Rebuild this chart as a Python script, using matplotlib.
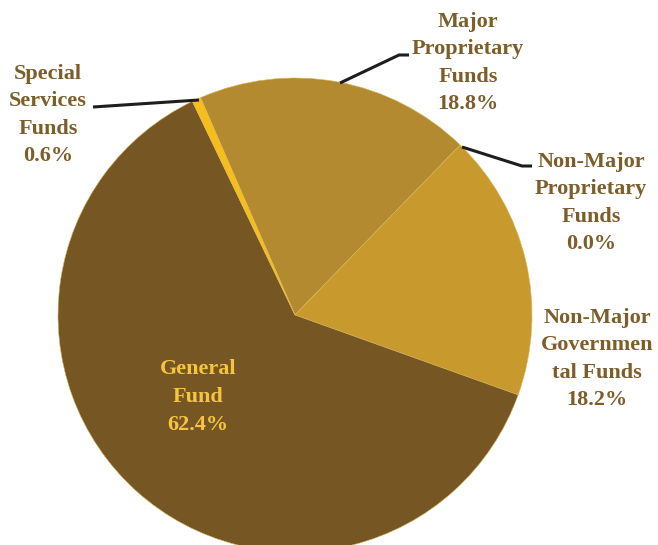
import matplotlib
matplotlib.use("Agg")
import matplotlib.pyplot as plt

# Fund shares, clockwise from the top-left edge of Major Proprietary
funds = ["Major\nProprietary\nFunds", "Non-Major\nProprietary\nFunds",
         "Non-Major\nGovernmen\ntal Funds", "General\nFund",
         "Special\nServices\nFunds"]
shares = [18.8, 0.0, 18.2, 62.4, 0.6]
colors = ["#B38A2F", "#C8992C", "#C8992C", "#765724", "#F7BE1A"]

TEXT = "#7B5E2A"
W, H = 658, 545


def flip(y):
    return H - y


fig = plt.figure(figsize=(W / 100, H / 100), dpi=100)
ax = fig.add_axes([0, 0, 1, 1])
ax.axis("off")

ax.pie(shares, colors=colors, startangle=113.5, counterclock=False,
       center=(295, flip(315)), radius=237,
       wedgeprops=dict(edgecolor="#D8B55A", linewidth=0.4))

font = dict(family=["Liberation Serif", "DejaVu Serif"], fontsize=16,
            fontweight="bold", ha="center", va="center", linespacing=1.5)

# label centres in pixel space (x, y from top)
label_pos = [(468, 63), (591, 203), (597, 359), (198, 397), (48, 115)]
for name, share, (x, y) in zip(funds, shares, label_pos):
    col = "#F5C542" if name.startswith("General") else TEXT
    ax.text(x, flip(y), f"{name}\n{share:.1f}%", color=col, **font)

# leader lines
leaders = [
    [(93, 107), (199, 100)],
    [(340, 83), (399, 55), (409, 55)],
    [(462, 147), (522, 166), (532, 166)],
]
for pts in leaders:
    xs = [p[0] for p in pts]
    ys = [flip(p[1]) for p in pts]
    ax.plot(xs, ys, color="#1E1E1E", lw=2.2, solid_capstyle="butt")

ax.set_xlim(0, W)
ax.set_ylim(0, H)
ax.set_aspect("auto")

fig.savefig("out.png", dpi=100)
